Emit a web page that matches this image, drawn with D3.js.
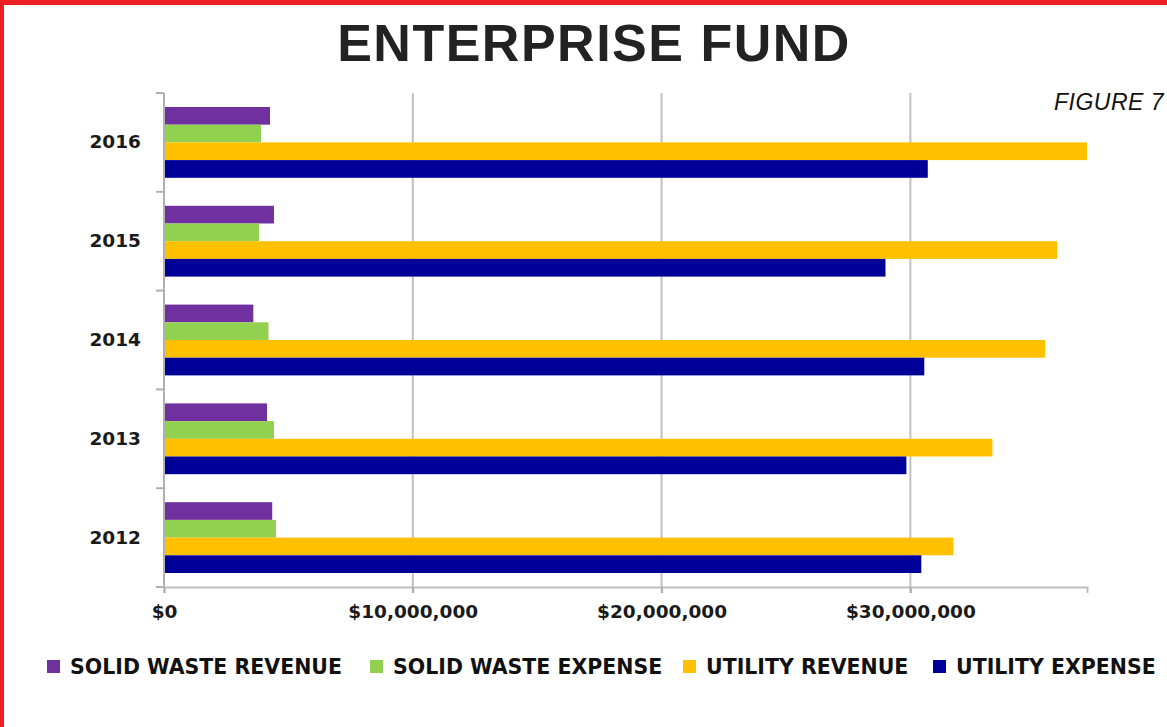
<html>
<script src='https://d3js.org/d3.v7.min.js'></script>
<style>
body {margin:0; background:#fff;}
text {font-family: 'DejaVu Sans', sans-serif;}
</style>
<body>
<svg width=1167 height=727></svg>
<script>
var years = ['2016','2015','2014','2013','2012'];
var series = ['SOLID WASTE REVENUE','SOLID WASTE EXPENSE','UTILITY REVENUE','UTILITY EXPENSE'];
var colors = ['#7030a0','#92d050','#ffc000','#000099'];
// values in dollars, same order as years
var swRevenue = [4260000,4420000,3590000,4140000,4350000];
var swExpense = [3900000,3820000,4200000,4420000,4500000];
var utRevenue = [37100000,35900000,35420000,33300000,31730000];
var utExpense = [30700000,29000000,30560000,29840000,30440000];
var xTicks = [0,10000000,20000000,30000000];

var values = [swRevenue, swExpense, utRevenue, utExpense];
var svg = d3.select('svg');

// red frame, top and left
svg.append('rect').attr('x',0).attr('y',0).attr('width',1167).attr('height',5).attr('fill','#ee2024');
svg.append('rect').attr('x',0).attr('y',0).attr('width',4).attr('height',727).attr('fill','#ee2024');

svg.append('text').attr('x',594).attr('y',61).attr('text-anchor','middle')
  .style('font-family','"Liberation Sans", Arial, sans-serif').style('font-weight','bold')
  .style('font-size','52px').style('letter-spacing','1.5px').attr('fill','#222').text('ENTERPRISE FUND');

svg.append('text').attr('x',1054).attr('y',110)
  .style('font-family','"Liberation Sans", Arial, sans-serif').style('font-style','italic')
  .style('font-size','23px').style('letter-spacing','0.5px').attr('fill','#111').text('FIGURE 7');

var xs = d3.scaleLinear().domain([0,37100000]).range([164,1087]);
var ys = d3.scaleBand().domain(years).range([93,587]);
var inner = d3.scaleBand().domain(series).range([14, ys.bandwidth()-14]);

// gridlines
svg.append('g').selectAll('line').data(xTicks.slice(1)).enter().append('line')
  .attr('x1',function(d){return xs(d);}).attr('x2',function(d){return xs(d);})
  .attr('y1',93).attr('y2',593).attr('stroke','#c0c0c0').attr('stroke-width',2);

// bars
series.forEach(function(s,k){
  svg.append('g').selectAll('rect').data(values[k]).enter().append('rect')
    .attr('x', xs(0))
    .attr('y', function(d,i){return ys(years[i]) + inner(s);})
    .attr('width', function(d){return xs(d) - xs(0);})
    .attr('height', inner.bandwidth())
    .attr('fill', colors[k]);
});

// axes
var axisY = d3.axisLeft(ys).tickSize(0).tickPadding(23);
var gy = svg.append('g').attr('transform','translate(164,0)').call(axisY);
gy.select('.domain').remove();
gy.selectAll('text').style('font-family','"DejaVu Sans", sans-serif').style('font-weight','bold')
  .style('font-size','18.5px').attr('fill','#1a1a1a');
var bounds = ys.domain().map(function(d){return ys(d);}).concat([587]);
svg.append('g').selectAll('line').data(bounds).enter().append('line')
  .attr('x1',156).attr('x2',164).attr('y1',function(d){return d;}).attr('y2',function(d){return d;})
  .attr('stroke','#b0b0b0').attr('stroke-width',2);
svg.append('line').attr('x1',164).attr('x2',164).attr('y1',93).attr('y2',588)
  .attr('stroke','#b0b0b0').attr('stroke-width',2);

var axisX = d3.axisBottom(xs).tickValues(xTicks).tickSize(6).tickPadding(12)
  .tickFormat(function(d){return '$' + d3.format(',')(d);});
var gx = svg.append('g').attr('transform','translate(0,587)').call(axisX);
gx.select('.domain').attr('stroke','#c0c0c0').attr('stroke-width',2);
gx.selectAll('.tick line').attr('stroke','#b0b0b0').attr('stroke-width',2);
gx.selectAll('text').style('font-family','"DejaVu Sans", sans-serif').style('font-weight','bold')
  .style('font-size','18.5px').attr('fill','#1a1a1a');

// legend
var legX = [47, 370, 683, 933];
var leg = svg.append('g').selectAll('g').data(series).enter().append('g')
  .attr('transform', function(d,i){return 'translate(' + legX[i] + ',660)';});
leg.append('rect').attr('width',13).attr('height',13).attr('fill',function(d,i){return colors[i];});
leg.append('text').attr('x',23).attr('y',14).text(function(d){return d;})
  .style('font-weight','bold').style('font-size','20.5px').attr('fill','#111');
</script>
</body>
</html>
